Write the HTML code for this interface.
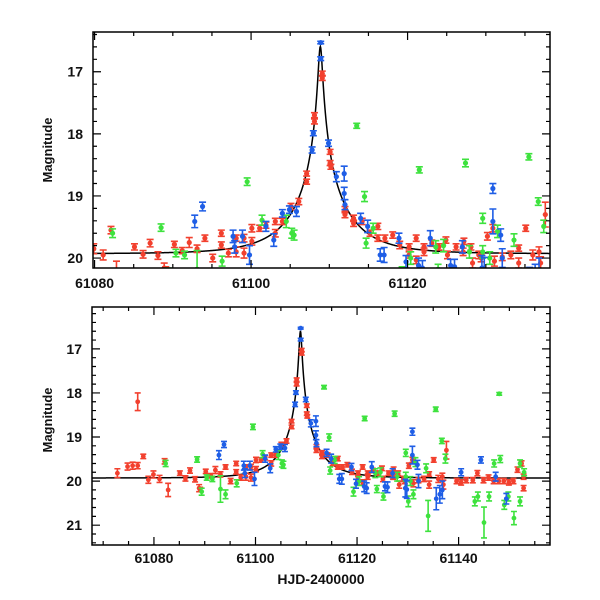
<!DOCTYPE html>
<html><head><meta charset="utf-8"><style>
html,body{margin:0;padding:0;background:#fff}
svg{display:block}
text{font-family:"Liberation Sans",sans-serif;font-weight:bold;fill:#111}
</style></head><body>
<svg id="chart" width="600" height="600" viewBox="0 0 600 600" xmlns="http://www.w3.org/2000/svg"></svg>
<script>
// ---- data (HJD-2400000, magnitude, error) ----
const redT=[61072.8,61074.8,61075.8,61076.8,61076.8,61077.9,61078.9,61079.9,61081.1,61082.1,61082.8,61085.1,61086.2,61087.1,61088.1,61088.9,61089.1,61090.2,61091.2,61092.1,61093.1,61094.1,61095.1,61096.2,61096.2,61097.1,61098.1,61098.1,61099.1,61099.1,61100.1,61100.1,61101.1,61101.9,61103.1,61103.1,61104.0,61105.1,61106.1,61107.1,61107.1,61108.1,61108.1,61109.1,61109.1,61110.1,61110.1,61110.2,61112.0,61112.0,61113.1,61113.1,61114.2,61115.2,61116.2,61116.2,61117.1,61118.1,61119.0,61120.2,61120.2,61121.1,61121.1,61122.1,61122.1,61123.1,61124.0,61124.9,61125.1,61126.2,61127.1,61127.2,61128.1,61128.3,61129.1,61129.4,61130.2,61130.9,61131.1,61132.1,61133.2,61134.2,61134.2,61135.1,61136.0,61136.8,61137.0,61137.6,61139.6,61140.5,61141.5,61142.8,61143.7,61144.9,61145.9,61146.9,61147.9,61148.9,61149.9,61150.8,61151.6,61152.4,61152.8,61152.8];
const redM=[19.82,19.67,19.65,19.65,18.2,19.44,19.97,19.85,19.95,19.55,20.2,19.82,19.94,19.76,19.96,20.16,20.19,19.78,19.88,19.75,19.85,19.68,20.0,19.6,19.79,19.92,19.68,19.9,19.68,19.92,19.52,19.73,19.52,19.47,19.41,19.6,19.41,19.17,19.09,18.64,18.77,17.70,17.80,17.03,17.10,18.29,18.47,18.53,19.22,19.30,19.44,19.36,19.41,19.60,19.49,19.68,19.68,19.63,19.79,19.95,19.82,19.68,20.03,19.82,19.90,19.76,19.82,19.71,19.95,19.82,19.90,19.73,19.82,20.08,19.95,20.0,19.65,19.52,20.05,19.98,19.95,19.84,20.08,19.52,19.95,19.90,20.08,19.3,20.0,20.03,19.98,19.98,19.82,19.98,19.92,20.0,20.0,20.0,20.03,20.0,19.74,19.60,20.16,19.9];
const redE=[0.1,0.08,0.08,0.07,0.2,0.05,0.08,0.08,0.08,0.06,0.15,0.05,0.06,0.06,0.06,0.08,0.05,0.05,0.05,0.08,0.06,0.05,0.06,0.05,0.05,0.06,0.05,0.08,0.06,0.08,0.06,0.06,0.05,0.05,0.05,0.06,0.05,0.05,0.05,0.04,0.04,0.04,0.04,0.04,0.04,0.04,0.04,0.04,0.05,0.05,0.05,0.05,0.05,0.05,0.05,0.05,0.05,0.05,0.06,0.05,0.05,0.05,0.06,0.05,0.06,0.05,0.05,0.05,0.06,0.05,0.06,0.05,0.05,0.08,0.06,0.06,0.06,0.06,0.08,0.06,0.06,0.05,0.08,0.05,0.08,0.08,0.1,0.2,0.06,0.06,0.06,0.06,0.06,0.06,0.06,0.06,0.06,0.06,0.06,0.06,0.06,0.06,0.06,0.06];
const blueT=[61092.8,61093.8,61097.7,61097.9,61098.9,61099.8,61101.9,61102.9,61104.0,61104.9,61105.8,61107.8,61107.96,61108.9,61108.9,61109.9,61110.9,61111.9,61111.9,61112.0,61114.0,61114.9,61116.5,61117.0,61118.9,61119.8,61121.4,61121.9,61122.9,61125.5,61126.0,61127.0,61129.5,61129.8,61130.9,61130.9,61131.9,61132.1,61135.6,61136.3,61136.8,61140.5,61144.4,61147.3,61149.4];
const blueM=[19.41,19.17,19.65,19.82,19.65,19.95,19.49,19.71,19.28,19.22,19.25,18.26,17.99,16.53,16.79,18.15,18.69,18.64,18.96,19.14,19.36,19.49,19.95,19.95,19.68,20.06,20.12,20.16,19.68,20.12,20.14,19.82,20.16,20.19,18.88,19.41,19.63,20.0,20.4,20.3,20.2,19.8,19.52,19.9,20.4];
const blueE=[0.1,0.07,0.1,0.1,0.1,0.15,0.08,0.1,0.06,0.06,0.08,0.05,0.04,0.02,0.03,0.05,0.08,0.12,0.1,0.08,0.08,0.1,0.1,0.12,0.08,0.1,0.12,0.12,0.12,0.1,0.12,0.1,0.2,0.2,0.08,0.2,0.1,0.15,0.25,0.2,0.2,0.08,0.07,0.1,0.12];
const greenT=[61082.3,61088.5,61089.4,61090.4,61091.5,61093.1,61094.1,61096.3,61099.5,61101.4,61104.5,61105.2,61105.5,61113.5,61114.5,61114.7,61115.6,61119.3,61120.4,61121.5,61123.6,61123.9,61124.6,61125.2,61127.4,61127.9,61129.6,61129.6,61130.1,61130.5,61131.1,61131.5,61133.6,61134.0,61135.5,61136.7,61137.4,61143.2,61143.8,61145.0,61146.0,61147.0,61148.0,61148.2,61149.0,61149.8,61150.9,61152.1,61152.1,61152.9];
const greenM=[19.6,19.51,20.24,19.92,19.95,20.18,20.3,20.05,18.77,19.39,19.41,19.6,19.63,17.87,19.01,19.76,19.52,20.24,20.0,18.58,19.82,20.18,19.8,20.35,18.47,19.9,19.36,19.9,20.46,20.0,20.3,19.57,19.71,20.79,18.37,19.09,19.49,20.46,20.35,20.94,20.35,19.6,18.02,19.5,20.54,20.35,20.84,20.46,19.6,19.8];
const greenE=[0.07,0.06,0.08,0.06,0.06,0.3,0.1,0.08,0.06,0.08,0.1,0.08,0.08,0.04,0.08,0.08,0.08,0.1,0.1,0.05,0.1,0.08,0.1,0.08,0.06,0.1,0.08,0.1,0.12,0.1,0.1,0.1,0.1,0.35,0.05,0.06,0.1,0.1,0.1,0.35,0.1,0.08,0.03,0.08,0.1,0.1,0.15,0.1,0.08,0.08];
// model parameters
const modelT0=[61108.85], modelU0=[0.036], modelTE=[7.0], modelFs=[0.77], modelBase=[19.93];

const NS="http://www.w3.org/2000/svg";
const svg=document.getElementById('chart');
function mk(tag,attrs,parent){const e=document.createElementNS(NS,tag);for(const k in attrs)e.setAttribute(k,attrs[k]);(parent||svg).appendChild(e);return e;}
function modelMag(t){const u=Math.sqrt(modelU0[0]**2+((t-modelT0[0])/modelTE[0])**2);const A=(u*u+2)/(u*Math.sqrt(u*u+4));const F=1+modelFs[0]*(A-1);return modelBase[0]-2.5*Math.log10(F);}

const panels=[
 {name:'top',x0:93,x1:550,y0:32,y1:268,t0:61079.8,t1:61138.2,m0:16.36,m1:20.16,xt:[61080,61100,61120],xminor:5,yt:[17,18,19,20],yminor:0.2,r:2.6,cap:3.5,ylabY:150,xlabOff:20},
 {name:'bottom',x0:92,x1:550,y0:307,y1:545,t0:61067.8,t1:61158,m0:16.05,m1:21.45,xt:[61080,61100,61120,61140],xminor:5,yt:[17,18,19,20,21],yminor:0.2,r:2.4,cap:3,ylabY:420,xlabOff:18}
];
const series=[['red',redT,redM,redE,'#f2402e'],['green',greenT,greenM,greenE,'#3ee23e'],['blue',blueT,blueM,blueE,'#1f5ee6']];

panels.forEach((p,pi)=>{
 const X=t=>p.x0+(t-p.t0)/(p.t1-p.t0)*(p.x1-p.x0);
 const Y=m=>p.y0+(m-p.m0)/(p.m1-p.m0)*(p.y1-p.y0);
 const g=mk('g',{});
 
 
 const cp=mk('clipPath',{id:'clip'+pi},g);
 mk('rect',{x:p.x0,y:p.y0,width:p.x1-p.x0,height:p.y1-p.y0},cp);
 const plot=mk('g',{'clip-path':'url(#clip'+pi+')'},g);
 let d='';
 for(let i=0;i<=1200;i++){const t=p.t0+(p.t1-p.t0)*i/1200;d+=(i?'L':'M')+X(t).toFixed(2)+' '+Y(modelMag(t)).toFixed(2);}
 const mc=mk('path',{d:d,fill:'none',stroke:'#000','stroke-width':1.5},plot);
 
 
 series.forEach(s=>{
  const sg=mk('g',{stroke:s[4],fill:s[4],'stroke-width':1.6},plot);
  
  
  s[1].forEach((t,i)=>{
   const x=X(t),y=Y(s[2][i]),ya=Y(s[2][i]-s[3][i]),yb=Y(s[2][i]+s[3][i]);
   mk('path',{d:`M${x} ${ya}L${x} ${yb}M${x-p.cap} ${ya}L${x+p.cap} ${ya}M${x-p.cap} ${yb}L${x+p.cap} ${yb}`,fill:'none'},sg);
   const c=mk('circle',{cx:x,cy:y,r:p.r,stroke:'none'},sg);
   
   
  });
 });
 const fr=mk('rect',{x:p.x0,y:p.y0,width:p.x1-p.x0,height:p.y1-p.y0,fill:'none',stroke:'#000','stroke-width':1.5},g);
 
 
 let td='';
 for(let t=Math.ceil(p.t0/p.xminor)*p.xminor;t<=p.t1;t+=p.xminor){const x=X(t);const L=(t%20===0)?8:4;td+=`M${x} ${p.y1}l0 ${-L}M${x} ${p.y0}l0 ${L}`;}
 for(let m=Math.ceil(p.m0/p.yminor)*p.yminor;m<=p.m1+1e-6;m+=p.yminor){const y=Y(m);const L=(Math.abs(m-Math.round(m))<1e-6)?8:4;td+=`M${p.x0} ${y}l${L} 0M${p.x1} ${y}l${-L} 0`;}
 mk('path',{d:td,stroke:'#000','stroke-width':1.2,fill:'none'},g);
 p.xt.forEach(t=>{const tx=mk('text',{x:X(t),y:p.y1+p.xlabOff,'text-anchor':'middle','font-size':14},g);tx.textContent=t;
  });
 p.yt.forEach(m=>{const tx=mk('text',{x:p.x0-10,y:Y(m)+5,'text-anchor':'end','font-size':14},g);tx.textContent=m;
  });
 const yl=mk('text',{x:0,y:0,transform:`translate(52 ${p.ylabY}) rotate(-90)`,'text-anchor':'middle','font-size':13},g);
 yl.textContent='Magnitude';
 
 
});
const xl=mk('text',{x:321,y:584,'text-anchor':'middle','font-size':14});
xl.textContent='HJD-2400000';


</script>
</body></html>
